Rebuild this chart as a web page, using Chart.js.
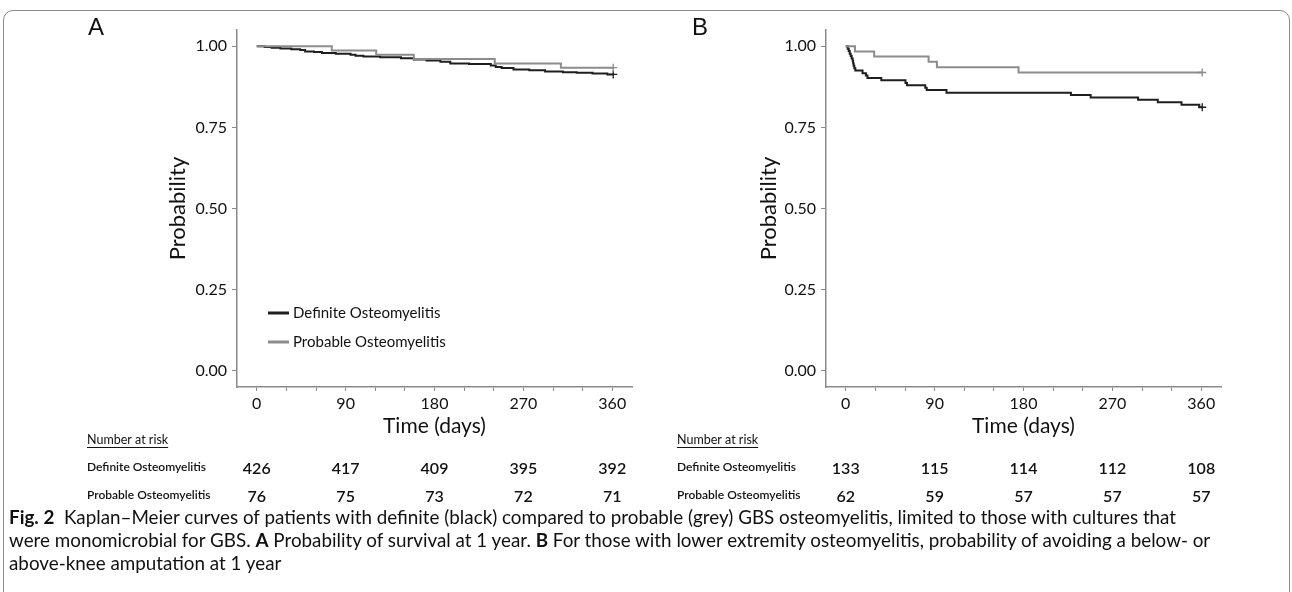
<!DOCTYPE html>
<html>
<head>
<meta charset="utf-8">
<script src="https://cdn.jsdelivr.net/npm/chart.js@4.4.1/dist/chart.umd.min.js"></script>
<style>
  body { margin: 0; width: 1292px; height: 592px; overflow: hidden; background: #fff; position: relative; font-family: Lato, "Open Sans", sans-serif; color: #111; }
  #frame { position: absolute; left: 3px; top: 10px; width: 1285px; height: 700px; border: 1.5px solid #8a8a8a; border-radius: 10px; }
  canvas { position: absolute; top: 0; }
  #chartA { left: 0; }
  #chartB { left: 646px; }
  .panel { position: absolute; top: 15px; line-height: 24px; font-family: "Liberation Sans", Arial, sans-serif; font-size: 24px; }
  #caption { position: absolute; left: 9px; top: 505px; font-size: 19px; line-height: 23px; white-space: nowrap; transform: scaleX(0.99); transform-origin: left top; }
</style>
</head>
<body>
<div id="frame"></div>
<canvas id="chartA" width="646" height="510"></canvas>
<canvas id="chartB" width="646" height="510"></canvas>
<div class="panel" style="left:88px">A</div>
<div class="panel" style="left:692px">B</div>
<div id="caption"><b>Fig. 2</b>&nbsp; Kaplan–Meier curves of patients with definite (black) compared to probable (grey) GBS osteomyelitis, limited to those with cultures that<br>were monomicrobial for GBS. <b>A</b> Probability of survival at 1 year. <b>B</b> For those with lower extremity osteomyelitis, probability of avoiding a below- or<br>above-knee amputation at 1 year</div>

<script>
// Series names and colours
const seriesNames = ['Definite Osteomyelitis', 'Probable Osteomyelitis'];
const seriesColors = ['#1e1e1e', '#8c8c8c'];

// Panel A - survival (days, probability)
const aDefiniteTime = [0, 8, 15, 24, 35, 44, 49, 58, 66, 80, 95, 100, 108, 125, 146, 159, 172, 186, 196, 215, 237, 242, 248, 260, 276, 292, 310, 324, 340, 355, 361];
const aDefiniteSurv = [1.000, 0.998, 0.995, 0.993, 0.991, 0.988, 0.984, 0.982, 0.979, 0.977, 0.974, 0.971, 0.968, 0.966, 0.963, 0.959, 0.956, 0.952, 0.947, 0.945, 0.941, 0.936, 0.933, 0.928, 0.926, 0.922, 0.920, 0.918, 0.916, 0.913, 0.913];
const aProbableTime = [0, 76, 121, 159, 241, 308, 361];
const aProbableSurv = [1.000, 0.987, 0.974, 0.961, 0.947, 0.934, 0.934];

// Panel B - amputation free
const bDefiniteTime = [0, 2, 3, 4, 5, 6, 7, 7.5, 8, 8.7, 9.7, 17, 20.4, 22, 36, 60.5, 62, 80.5, 82, 102, 228, 248, 296, 316, 340, 358, 361];
const bDefiniteSurv = [1.000, 0.992, 0.985, 0.977, 0.970, 0.962, 0.955, 0.947, 0.940, 0.932, 0.925, 0.917, 0.910, 0.902, 0.895, 0.887, 0.880, 0.872, 0.865, 0.857, 0.850, 0.842, 0.835, 0.827, 0.820, 0.812, 0.812];
const bProbableTime = [0, 9.3, 28.8, 83.9, 92.3, 175, 361];
const bProbableSurv = [1.000, 0.984, 0.968, 0.952, 0.935, 0.919, 0.919];

// Number at risk
const riskTimes = [0, 90, 180, 270, 360];
const aRiskDefinite = [426, 417, 409, 395, 392];
const aRiskProbable = [76, 75, 73, 72, 71];
const bRiskDefinite = [133, 115, 114, 112, 108];
const bRiskProbable = [62, 59, 57, 57, 57];

const FONT = 'Lato, "Open Sans", sans-serif';

function toPoints(t, s) {
    return t.map((x, i) => ({ x: x, y: s[i] }));
}

function kmDataset(i, t, s) {
    const n = t.length;
    return {
        label: seriesNames[i],
        data: toPoints(t, s),
        borderColor: seriesColors[i],
        borderWidth: 2,
        stepped: true,
        showLine: true,
        pointStyle: 'cross',
        pointRadius: ctx => ctx.dataIndex === n - 1 ? 4 : 0,
        pointBorderColor: seriesColors[i],
        pointBorderWidth: 1.3
    };
}

// Legend inside panel A, risk table under each panel
const riskPlugin = {
    id: 'riskTable',
    afterDraw(chart, args, opts) {
        const ctx = chart.ctx;
        const xs = chart.scales.x;
        ctx.save();
        ctx.fillStyle = '#111';
        ctx.textBaseline = 'middle';
        ctx.textAlign = 'left';
        ctx.font = '12.5px ' + FONT;
        ctx.fillText('Number at risk', opts.labelX, 440);
        const w = ctx.measureText('Number at risk').width;
        ctx.fillRect(opts.labelX, 447, w, 1);
        ctx.font = '600 12px ' + FONT;
        ctx.fillText(seriesNames[0], opts.labelX, 467);
        ctx.fillText(seriesNames[1], opts.labelX, 495);
        ctx.font = '600 16px ' + FONT;
        ctx.textAlign = 'center';
        riskTimes.forEach((t, i) => {
            const px = xs.getPixelForValue(t);
            ctx.fillText(opts.rows[0][i], px, 469);
            ctx.fillText(opts.rows[1][i], px, 497);
        });
        if (opts.legend) {
            ctx.textAlign = 'left';
            ctx.font = '15px ' + FONT;
            [313, 342].forEach((y, i) => {
                ctx.fillStyle = seriesColors[i];
                ctx.fillRect(268, y - 1.5, 21, 3);
                ctx.fillStyle = '#111';
                ctx.fillText(seriesNames[i], 293, y);
            });
        }
        ctx.restore();
    }
};

function kmOptions(padLeft, padRight, yWidth, rows, labelX, legend) {
    return {
        responsive: false,
        animation: false,
        devicePixelRatio: 1,
        layout: { padding: { left: padLeft, right: padRight, top: 30, bottom: 71 } },
        plugins: {
            legend: { display: false },
            tooltip: { enabled: false },
            riskTable: { rows: rows, labelX: labelX, legend: legend }
        },
        scales: {
            x: {
                type: 'linear', min: -20, max: 380,
                ticks: {
                    stepSize: 30, includeBounds: false, autoSkip: false, maxRotation: 0,
                    padding: 3, color: '#111', font: { size: 16, family: FONT },
                    callback: v => (v % 90 === 0 ? String(v) : '')
                },
                grid: { drawOnChartArea: false, drawTicks: true, tickLength: 4, color: '#8a8a8a' },
                border: { color: '#8a8a8a', width: 1.5 },
                title: { display: true, text: 'Time (days)', color: '#111', font: { size: 21, family: FONT }, padding: 0 },
                afterFit: s => { s.height = 52; }
            },
            y: {
                type: 'linear', min: -0.05, max: 1.05,
                ticks: {
                    stepSize: 0.25, includeBounds: false, padding: 5, color: '#111',
                    font: { size: 16, family: FONT },
                    callback: v => v.toFixed(2)
                },
                grid: { drawOnChartArea: false, drawTicks: true, tickLength: 5, color: '#8a8a8a' },
                border: { color: '#8a8a8a', width: 1.5 },
                title: { display: true, text: 'Probability', color: '#111', font: { size: 22, family: FONT }, padding: 0 },
                afterFit: s => { s.width = yWidth; }
            }
        }
    };
}

new Chart(document.getElementById('chartA'), {
    type: 'scatter',
    data: {
        datasets: [
            kmDataset(1, aProbableTime, aProbableSurv),
            kmDataset(0, aDefiniteTime, aDefiniteSurv)
        ]
    },
    options: kmOptions(165, 14, 72, [aRiskDefinite, aRiskProbable], 87, true),
    plugins: [riskPlugin]
});

new Chart(document.getElementById('chartB'), {
    type: 'scatter',
    data: {
        datasets: [
            kmDataset(1, bProbableTime, bProbableSurv),
            kmDataset(0, bDefiniteTime, bDefiniteSurv)
        ]
    },
    options: kmOptions(110, 71, 70, [bRiskDefinite, bRiskProbable], 31, false),
    plugins: [riskPlugin]
});
</script>
</body>
</html>
